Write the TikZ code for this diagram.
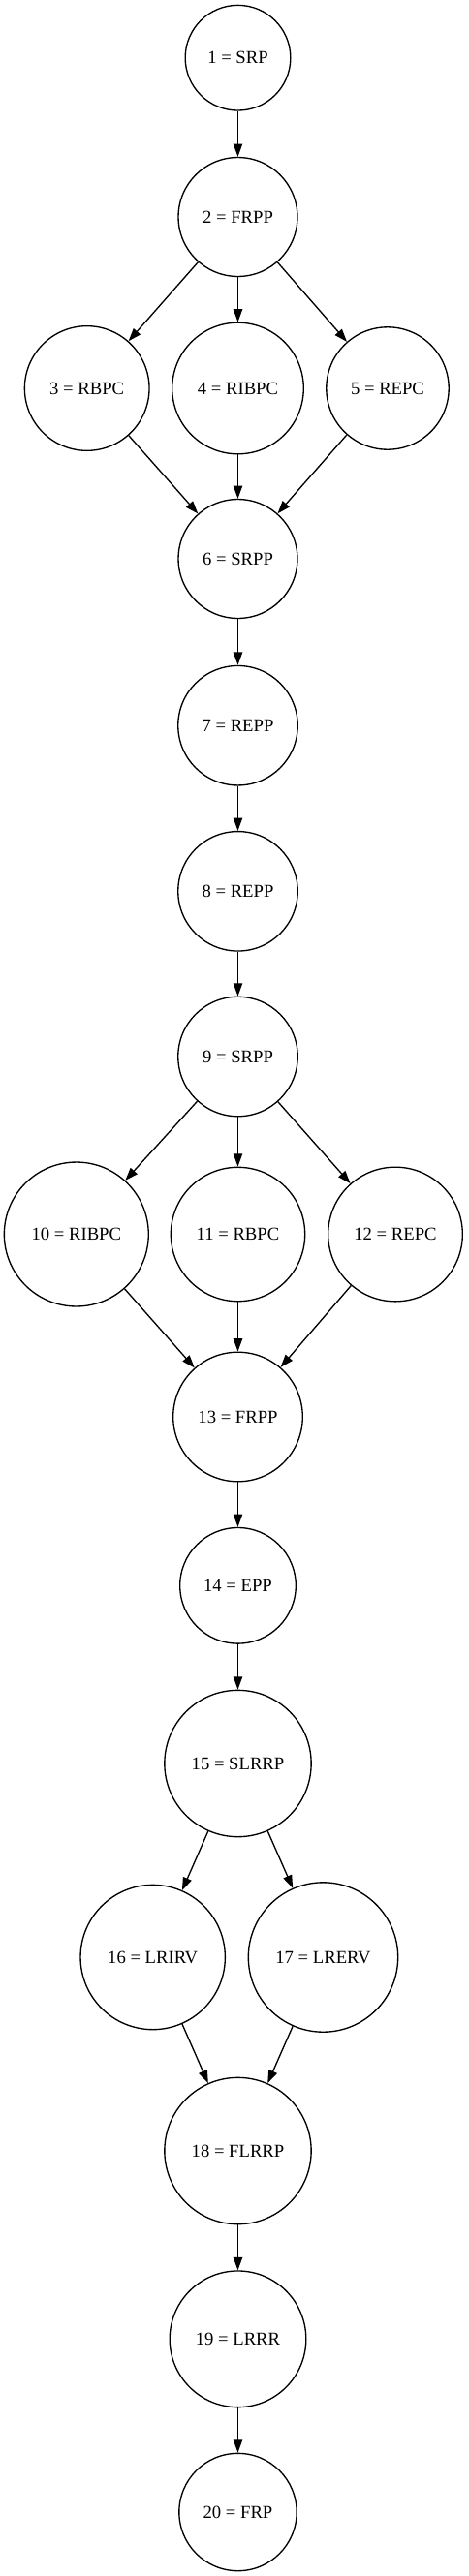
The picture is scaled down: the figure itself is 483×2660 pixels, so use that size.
\documentclass[tikz,border=0pt]{standalone}
\usepackage{fontspec}
\setmainfont{Liberation Serif}
\usetikzlibrary{arrows.meta}
\tikzset{
  st/.style={draw,circle,inner sep=0pt,line width=1pt,font=\fontsize{14}{16}\selectfont},
  tr/.style={line width=1pt,-{Triangle[length=10pt,width=7pt]}}
}
\begin{document}
\begin{tikzpicture}[x=0.75pt,y=-0.75pt]
      \useasboundingbox (0,0) rectangle (483,2660);
      \node[st,minimum size=81.5pt] (n1) at (245.5,59.7) {1 = SRP};
      \node[st,minimum size=92.2pt] (n2) at (245.5,224) {2 = FRPP};
      \node[st,minimum size=96.5pt] (n3) at (89.7,401) {3 = RBPC};
      \node[st,minimum size=101.7pt] (n4) at (245.5,401) {4 = RIBPC};
      \node[st,minimum size=94.8pt] (n5) at (400,401) {5 = REPC};
      \node[st,minimum size=92.2pt] (n6) at (245.5,577) {6 = SRPP};
      \node[st,minimum size=92.6pt] (n7) at (245.5,749.2) {7 = REPP};
      \node[st,minimum size=92.6pt] (n8) at (245.5,920.3) {8 = REPP};
      \node[st,minimum size=92.6pt] (n9) at (245.5,1091) {9 = SRPP};
      \node[st,minimum size=111.7pt] (n10) at (78.8,1274.5) {10 = RIBPC};
      \node[st,minimum size=103.8pt] (n11) at (245.5,1274.5) {11 = RBPC};
      \node[st,minimum size=104pt] (n12) at (408,1274.5) {12 = REPC};
      \node[st,minimum size=100.2pt] (n13) at (245.5,1463) {13 = FRPP};
      \node[st,minimum size=89.7pt] (n14) at (245.5,1637.3) {14 = EPP};
      \node[st,minimum size=113.5pt] (n15) at (245.5,1821) {15 = SLRRP};
      \node[st,minimum size=112pt] (n16) at (157.7,2021) {16 = LRIRV};
      \node[st,minimum size=115.8pt] (n17) at (333.5,2021) {17 = LRERV};
      \node[st,minimum size=113.5pt] (n18) at (245.5,2221) {18 = FLRRP};
      \node[st,minimum size=105.5pt] (n19) at (245.5,2415.3) {19 = LRRR};
      \node[st,minimum size=91pt] (n20) at (245.5,2594) {20 = FRP};
      \draw[tr] (n1)--(n2);
      \draw[tr] (n2)--(n3);
      \draw[tr] (n2)--(n4);
      \draw[tr] (n2)--(n5);
      \draw[tr] (n3)--(n6);
      \draw[tr] (n4)--(n6);
      \draw[tr] (n5)--(n6);
      \draw[tr] (n6)--(n7);
      \draw[tr] (n7)--(n8);
      \draw[tr] (n8)--(n9);
      \draw[tr] (n9)--(n10);
      \draw[tr] (n9)--(n11);
      \draw[tr] (n9)--(n12);
      \draw[tr] (n10)--(n13);
      \draw[tr] (n11)--(n13);
      \draw[tr] (n12)--(n13);
      \draw[tr] (n13)--(n14);
      \draw[tr] (n14)--(n15);
      \draw[tr] (n15)--(n16);
      \draw[tr] (n15)--(n17);
      \draw[tr] (n16)--(n18);
      \draw[tr] (n17)--(n18);
      \draw[tr] (n18)--(n19);
      \draw[tr] (n19)--(n20);
    \end{tikzpicture}
\end{document}
